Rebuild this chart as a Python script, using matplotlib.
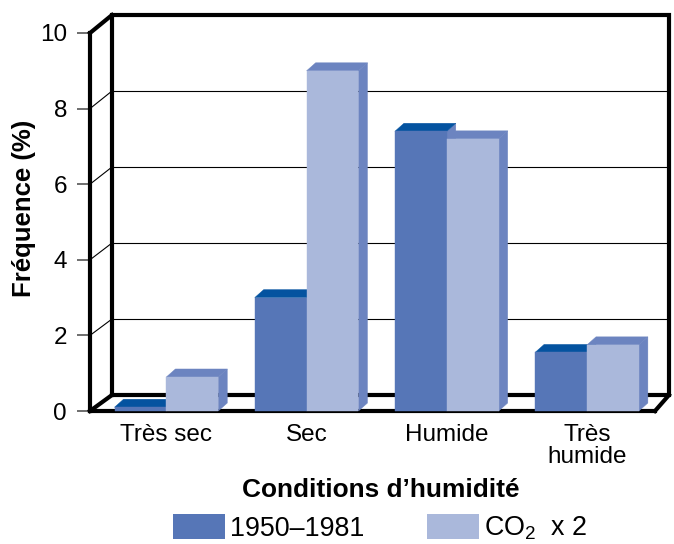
import matplotlib
matplotlib.use("Agg")
import matplotlib.pyplot as plt
from matplotlib.patches import Polygon, Patch
from matplotlib.lines import Line2D
from matplotlib.transforms import IdentityTransform

plt.rcParams['font.family'] = ['Liberation Sans', 'DejaVu Sans']
plt.rcParams['mathtext.fontset'] = 'custom'
plt.rcParams['mathtext.rm'] = 'Liberation Sans'
plt.rcParams['mathtext.it'] = 'Liberation Sans:italic'
plt.rcParams['mathtext.bf'] = 'Liberation Sans:bold'

# ---- data ----
categories = ["Très sec", "Sec", "Humide", "Très\nhumide"]
series_names = ["1950–1981", "CO$_2$  x 2"]
values_1950 = [0.1, 3.0, 7.4, 1.55]
values_co2 = [0.9, 9.0, 7.2, 1.75]
yticks = [0, 2, 4, 6, 8, 10]
ylabel = "Fréquence (%)"
xlabel = "Conditions d’humidité"

# ---- style ----
W, H = 674, 544
front_face = ["#5676B7", "#AAB8DB"]
top_face = ["#0453A0", "#6C84C0"]
side_face = ["#6C84C0", "#6C84C0"]
bar_w = 0.37
depth_px = (9, 8)

fig = plt.figure(figsize=(W / 100, H / 100), dpi=100)

def px_axes(l, r, b, t):
    return fig.add_axes([l / W, (H - b) / H, (r - l) / W, (b - t) / H])

# front plane axes
ax = px_axes(90, 655, 411, 33)
# back wall axes
axb = px_axes(112, 669, 395, 15)
for a in (ax, axb):
    a.set_xlim(-0.545, 3.485)
    a.set_ylim(0, 10)
    a.patch.set_alpha(0)
axb.set_zorder(0)
ax.set_zorder(1)
axb.axis("off")
for s in ax.spines.values():
    s.set_visible(False)

# ticks
ax.set_yticks(yticks)
ax.set_yticklabels([str(v) for v in yticks], fontsize=17.5)
ax.tick_params(axis="y", length=9.5, width=1.2, color="#555555", pad=7)
ax.set_xticks(range(len(categories)))
ax.set_xticklabels(categories, fontsize=17.5, linespacing=1.0)
ax.tick_params(axis="x", length=0, pad=9.5)

lw_frame = 3.0

def disp(a, x, y):
    return a.transData.transform((x, y))

def fig_line(p1, p2, lw, color="black", z=2):
    fig.add_artist(Line2D([p1[0], p2[0]], [p1[1], p2[1]], transform=IdentityTransform(),
                          lw=lw, color=color, zorder=z, solid_capstyle="projecting"))

x0, x1 = ax.get_xlim()
# back wall gridlines
for v in yticks[1:-1]:
    axb.plot([x0, x1], [v, v], color="black", lw=0.8, zorder=1, clip_on=False)
    fig_line(disp(ax, x0, v), disp(axb, x0, v), 0.8, z=1)

# back wall border
bx = [x0, x1, x1, x0, x0]
by = [0, 0, 10, 10, 0]
axb.plot(bx, by, color="black", lw=lw_frame, clip_on=False, solid_joinstyle="miter")

# left wall / floor edges
fig_line(disp(ax, x0, 10), disp(axb, x0, 10), lw_frame, z=3)
fig_line(disp(ax, x0, 0), disp(axb, x0, 0), lw_frame, z=3)
fig_line(disp(ax, x1, 0), disp(axb, x1, 0), lw_frame, z=3)
ax.plot([x0, x0], [0, 10], color="black", lw=lw_frame, clip_on=False, zorder=2,
        solid_capstyle="projecting")
ax.plot([x0, x1], [0, 0], color="black", lw=lw_frame, clip_on=False, zorder=2,
        solid_capstyle="projecting")

# bars
inv = ax.transData.inverted()
o = inv.transform((0, 0))
d = inv.transform(depth_px)
ddx, ddy = d[0] - o[0], d[1] - o[1]

for i in range(len(categories)):
    for k, vals in enumerate([values_1950, values_co2]):
        v = vals[i]
        left = i - bar_w + k * bar_w
        right = left + bar_w
        z = 5 + k
        side = Polygon([(right, 0), (right + ddx, ddy), (right + ddx, v + ddy), (right, v)],
                       closed=True, fc=side_face[k], ec=side_face[k], lw=0.3, zorder=z, clip_on=False)
        top = Polygon([(left, v), (left + ddx, v + ddy), (right + ddx, v + ddy), (right, v)],
                      closed=True, fc=top_face[k], ec=top_face[k], lw=0.3, zorder=z, clip_on=False)
        ax.add_patch(side)
        ax.add_patch(top)
        ax.bar(left, v, width=bar_w, align="edge", color=front_face[k],
               edgecolor=front_face[k], lw=0.3, zorder=z, clip_on=False)

# labels
fig.text(24 / W, 1 - 208 / H, ylabel, rotation=90, fontsize=18.5, fontweight="bold",
         ha="center", va="center")
fig.text(381 / W, 1 - 490 / H, xlabel, fontsize=18.9, fontweight="bold",
         ha="center", va="center")

# legend
handles = [Patch(facecolor=front_face[0], edgecolor="none"),
           Patch(facecolor=front_face[1], edgecolor="none")]
fig.legend(handles, series_names, loc="center", bbox_to_anchor=(380 / W, 1 - 528 / H),
           ncol=2, frameon=False, fontsize=19.4, handlelength=1.93, handleheight=1.08,
           handletextpad=0.2, columnspacing=2.3, borderpad=0, borderaxespad=0)

fig.savefig("out.png", dpi=100)
